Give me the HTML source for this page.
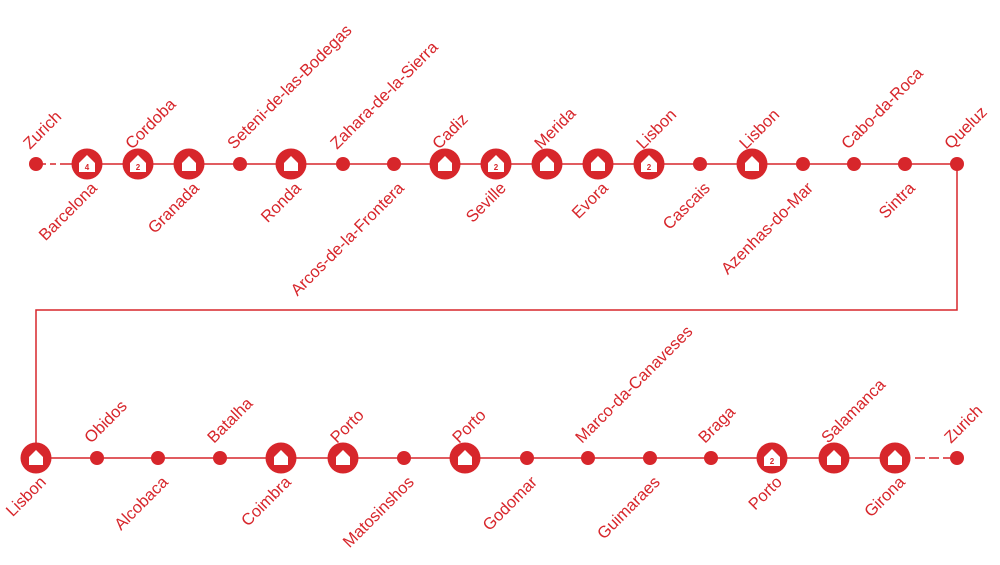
<!DOCTYPE html>
<html><head><meta charset="utf-8"><style>
html,body{margin:0;padding:0;background:#fff;}
svg text{font-family:"Liberation Sans",sans-serif;font-size:16.5px;fill:#d7262b;}
svg text.n{font-size:8px;font-weight:bold;fill:#d7262b;}
</style></head><body>
<svg width="1000" height="560" viewBox="0 0 1000 560" xmlns="http://www.w3.org/2000/svg">
<defs>
<g id="big"><circle r="15.5" fill="#d7262b"/><path d="M-7,-1 L0,-8 L7,-1 L7,7 L-7,7 Z" fill="#fff"/></g>
<g id="bign"><circle r="15.5" fill="#d7262b"/><path d="M-8,-1 L0,-9 L8,-1 L8,8 L-8,8 Z" fill="#fff"/></g>
</defs>
<g stroke="#d7262b" stroke-width="1.5" fill="none">
<line x1="36" y1="164" x2="46" y2="164"/>
<line x1="50" y1="164" x2="56" y2="164"/>
<line x1="60" y1="164" x2="957" y2="164"/>
<polyline points="957,164 957,310 36,310 36,458"/>
<line x1="36" y1="458" x2="910" y2="458"/>
<line x1="915" y1="458" x2="925" y2="458"/>
<line x1="929" y1="458" x2="939" y2="458"/>
<line x1="943" y1="458" x2="957" y2="458"/>
</g>
<g fill="#d7262b">
<circle cx="36" cy="164" r="7"/><circle cx="240" cy="164" r="7"/><circle cx="343" cy="164" r="7"/><circle cx="394" cy="164" r="7"/><circle cx="700" cy="164" r="7"/><circle cx="803" cy="164" r="7"/><circle cx="854" cy="164" r="7"/><circle cx="905" cy="164" r="7"/><circle cx="957" cy="164" r="7"/>
<circle cx="97" cy="458" r="7"/><circle cx="158" cy="458" r="7"/><circle cx="220" cy="458" r="7"/><circle cx="404" cy="458" r="7"/><circle cx="527" cy="458" r="7"/><circle cx="588" cy="458" r="7"/><circle cx="650" cy="458" r="7"/><circle cx="711" cy="458" r="7"/><circle cx="957" cy="458" r="7"/>
</g>
<use href="#bign" x="87" y="164"/><use href="#bign" x="138" y="164"/><use href="#big" x="189" y="164"/><use href="#big" x="291" y="164"/><use href="#big" x="445" y="164"/><use href="#bign" x="496" y="164"/><use href="#big" x="547" y="164"/><use href="#big" x="598" y="164"/><use href="#bign" x="649" y="164"/><use href="#big" x="752" y="164"/>
<use href="#big" x="36" y="458"/><use href="#big" x="281" y="458"/><use href="#big" x="343" y="458"/><use href="#big" x="465" y="458"/><use href="#bign" x="772" y="458"/><use href="#big" x="834" y="458"/><use href="#big" x="895" y="458"/>
<g text-anchor="middle">
<text class="n" x="87" y="170">4</text><text class="n" x="138" y="170">2</text><text class="n" x="496" y="170">2</text><text class="n" x="649" y="170">2</text><text class="n" x="772" y="464">2</text>
</g>
<g>
<text transform="translate(30,150) rotate(-45)">Zurich</text>
<text transform="translate(132,150) rotate(-45)">Cordoba</text>
<text transform="translate(234,150) rotate(-45)">Seteni-de-las-Bodegas</text>
<text transform="translate(337,150) rotate(-45)">Zahara-de-la-Sierra</text>
<text transform="translate(439,150) rotate(-45)">Cadiz</text>
<text transform="translate(541,150) rotate(-45)">Merida</text>
<text transform="translate(643,150) rotate(-45)">Lisbon</text>
<text transform="translate(746,150) rotate(-45)">Lisbon</text>
<text transform="translate(848,150) rotate(-45)">Cabo-da-Roca</text>
<text transform="translate(951,150) rotate(-45)">Queluz</text>
<text transform="translate(91,444) rotate(-45)">Obidos</text>
<text transform="translate(214,444) rotate(-45)">Batalha</text>
<text transform="translate(337,444) rotate(-45)">Porto</text>
<text transform="translate(459,444) rotate(-45)">Porto</text>
<text transform="translate(582,444) rotate(-45)">Marco-da-Canaveses</text>
<text transform="translate(705,444) rotate(-45)">Braga</text>
<text transform="translate(828,444) rotate(-45)">Salamanca</text>
<text transform="translate(951,444) rotate(-45)">Zurich</text>
</g>
<g text-anchor="end">
<text transform="translate(98,189) rotate(-45)">Barcelona</text>
<text transform="translate(200,189) rotate(-45)">Granada</text>
<text transform="translate(302,189) rotate(-45)">Ronda</text>
<text transform="translate(405,189) rotate(-45)">Arcos-de-la-Frontera</text>
<text transform="translate(507,189) rotate(-45)">Seville</text>
<text transform="translate(609,189) rotate(-45)">Evora</text>
<text transform="translate(711,189) rotate(-45)">Cascais</text>
<text transform="translate(814,189) rotate(-45)">Azenhas-do-Mar</text>
<text transform="translate(916,189) rotate(-45)">Sintra</text>
<text transform="translate(47,483) rotate(-45)">Lisbon</text>
<text transform="translate(169,483) rotate(-45)">Alcobaca</text>
<text transform="translate(292,483) rotate(-45)">Coimbra</text>
<text transform="translate(415,483) rotate(-45)">Matosinshos</text>
<text transform="translate(538,483) rotate(-45)">Godomar</text>
<text transform="translate(661,483) rotate(-45)">Guimaraes</text>
<text transform="translate(783,483) rotate(-45)">Porto</text>
<text transform="translate(906,483) rotate(-45)">Girona</text>
</g>
</svg>
</body></html>
